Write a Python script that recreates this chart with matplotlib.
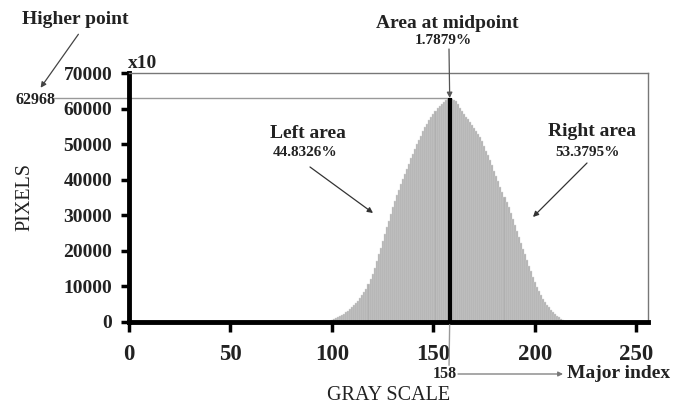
import numpy as np
import matplotlib.pyplot as plt

# histogram values (gray level -> pixel count)
gray_levels = list(range(97, 216))
pixel_counts = [
    100, 200, 350, 560, 800, 1050, 1350, 1650, 2000, 2350,
    2750, 3150, 3600, 4100, 4700, 5300, 6000, 6700, 7500, 8400,
    9400, 10600, 12000, 13600, 15300, 17100, 19000, 20900, 22800, 24700,
    26600, 28500, 30400, 32300, 34000, 35600, 37200, 38700, 40200, 41700,
    43100, 44500, 46000, 47300, 48600, 49900, 51200, 52400, 53600, 54700,
    55800, 56800, 57700, 58600, 59400, 60100, 60800, 61400, 61900, 62300,
    62700, 62968, 62800, 62500, 62000, 61200, 60300, 59400, 58500, 57700,
    57000, 56200, 55400, 54600, 53800, 52900, 52000, 50800, 49500, 48200,
    46900, 45500, 44000, 42500, 41000, 39500, 38000, 36600, 35200, 33800,
    32200, 30600, 29000, 27300, 25600, 23900, 22200, 20600, 19000, 17400,
    15800, 14200, 12700, 11200, 9900, 8700, 7600, 6600, 5700, 4900,
    4200, 3500, 2900, 2300, 1800, 1300, 900, 500, 200,
]
x_ticks = [0, 50, 100, 150, 200, 250]
y_ticks = [0, 10000, 20000, 30000, 40000, 50000, 60000, 70000]

midpoint = 158
peak = 62968
left_pct = "44.8326%"
mid_pct = "1.7879%"
right_pct = "53.3795%"

plt.rcParams['font.family'] = ['Liberation Serif', 'DejaVu Serif']

W, H = 677, 405
fig = plt.figure(figsize=(W / 100, H / 100), dpi=100)
ax = fig.add_axes([129 / W, 1 - 322 / H, (648 - 129) / W, (322 - 73) / H])


def fp(x, y):
    # pixel position -> figure fraction
    return (x / W, 1 - y / H)


ax.bar(gray_levels, pixel_counts, width=1.0, color='#b0b0b0',
       edgecolor='#d6d6d6', linewidth=0.3)
ax.plot([midpoint, midpoint], [0, peak], color='black', lw=3, solid_capstyle='butt')

ax.set_xlim(0, 255.7)
ax.set_ylim(0, 70000)
ax.set_xticks(x_ticks)
ax.set_yticks(y_ticks)
ax.set_xticklabels([str(t) for t in x_ticks], fontsize=16.5, fontweight='bold', color='#222')
ax.set_yticklabels([str(t) for t in y_ticks], fontsize=14, fontweight='bold', color='#222')
ax.tick_params(axis='x', direction='out', length=7, width=2.5, pad=9)
ax.tick_params(axis='y', direction='out', length=6, width=2.5, pad=6)

for s in ['left', 'bottom']:
    ax.spines[s].set_linewidth(3.5)
    ax.spines[s].set_color('black')
for s in ['top', 'right']:
    ax.spines[s].set_linewidth(1)
    ax.spines[s].set_color('#777')

# peak guide line out to the label
ax.plot([-37, midpoint], [peak, peak], color='#999', lw=1, clip_on=False, zorder=1)
# midpoint guide line below the axis
ax.annotate('', xy=(midpoint, 0), xycoords='data', xytext=fp(449, 368),
            textcoords='figure fraction',
            arrowprops=dict(arrowstyle='-', color='#999', lw=1))

fig.text(*fp(55, 100), str(peak), ha='right', va='center', fontsize=11.5,
         fontweight='bold', color='#222')
fig.text(*fp(75, 19), 'Higher point', ha='center', va='center', fontsize=14,
         fontweight='bold', color='#222')
ax.annotate('', xy=fp(39, 90), xycoords='figure fraction', xytext=fp(80, 32),
            arrowprops=dict(arrowstyle='-|>', color='#444', lw=0.9, mutation_scale=8))

fig.text(*fp(128, 63), 'x10', ha='left', va='center', fontsize=14,
         fontweight='bold', color='#222')

fig.text(*fp(447, 23), 'Area at midpoint', ha='center', va='center', fontsize=14,
         fontweight='bold', color='#222')
fig.text(*fp(443, 41), mid_pct, ha='center', va='center', fontsize=11,
         fontweight='bold', color='#222')
ax.annotate('', xy=(midpoint, peak), xycoords='data', xytext=fp(449, 49),
            textcoords='figure fraction',
            arrowprops=dict(arrowstyle='-|>', color='#555', lw=0.9, mutation_scale=8,
                            shrinkA=0, shrinkB=0))

fig.text(*fp(308, 133), 'Left area', ha='center', va='center', fontsize=14,
         fontweight='bold', color='#222')
fig.text(*fp(305, 152), left_pct, ha='center', va='center', fontsize=11,
         fontweight='bold', color='#222')
ax.annotate('', xy=fp(373, 213), xycoords='figure fraction', xytext=fp(310, 167),
            arrowprops=dict(arrowstyle='-|>', color='#333', lw=0.9, mutation_scale=8,
                            shrinkA=0, shrinkB=0))

fig.text(*fp(592, 132), 'Right area', ha='center', va='center', fontsize=14,
         fontweight='bold', color='#222')
fig.text(*fp(587, 152), right_pct, ha='center', va='center', fontsize=11,
         fontweight='bold', color='#222')
ax.annotate('', xy=fp(533, 217), xycoords='figure fraction', xytext=fp(587, 163),
            arrowprops=dict(arrowstyle='-|>', color='#333', lw=0.9, mutation_scale=8,
                            shrinkA=0, shrinkB=0))

fig.text(*fp(457, 374), str(midpoint), ha='right', va='center', fontsize=11.5,
         fontweight='bold', color='#222')
ax.annotate('', xy=fp(563, 374), xycoords='figure fraction', xytext=fp(458, 374),
            arrowprops=dict(arrowstyle='-|>', color='#777', lw=0.9, mutation_scale=7,
                            shrinkA=0, shrinkB=0))
fig.text(*fp(567, 374), 'Major index', ha='left', va='center', fontsize=14,
         fontweight='bold', color='#222')

fig.text(*fp(389, 396), 'GRAY SCALE', ha='center', va='center', fontsize=14.5,
         color='#222')
fig.text(*fp(25, 197), 'PIXELS', ha='center', va='center', rotation=90,
         fontsize=14.5, color='#222')

fig.savefig('out.png', dpi=100)
